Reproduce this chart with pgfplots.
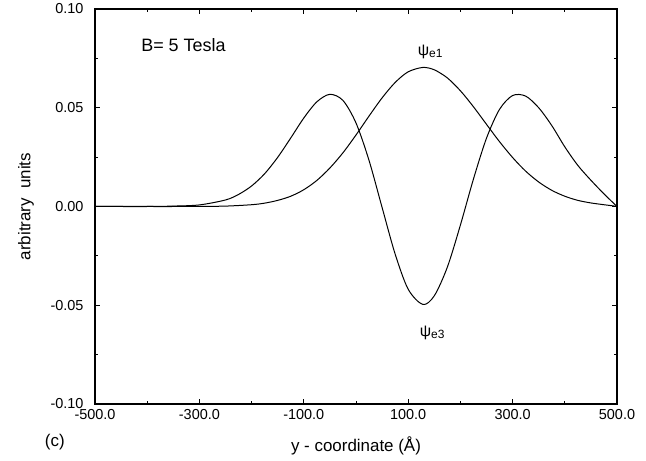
\documentclass[border=0pt]{standalone}
\usepackage{fontspec}
\setmainfont{Liberation Sans}
\usepackage{pgfplots}
\pgfplotsset{compat=1.18}
\begin{document}
\begin{tikzpicture}
\begin{axis}[
  scale only axis, width=522bp, height=395bp,
  xmin=-500, xmax=500, ymin=-0.1, ymax=0.1,
  scaled ticks=false,
  xtick={-500,-300,-100,100,300,500},
  minor xtick={-400,-200,0,200,400},
  ytick={-0.1,-0.05,0,0.05,0.1},
  minor ytick={-0.075,-0.025,0.025,0.075},
  tick align=inside,
  major tick length=5bp, minor tick length=3bp,
  axis line style={line width=1.2bp},
  every tick/.style={black, line width=0.8bp},
  tick label style={font=\fontsize{14.5}{16}\selectfont},
  xticklabel style={yshift=-2bp, /pgf/number format/.cd, fixed, fixed zerofill, precision=1, assume math mode=true},
  yticklabel style={xshift=-8bp, /pgf/number format/.cd, fixed, fixed zerofill, precision=2, assume math mode=true},
  xlabel={y - coordinate (Å)},
  ylabel={arbitrary\ \ units},
  every axis x label/.style={at={(axis description cs:0.5,-0.106)}, anchor=center, font=\fontsize{17}{19}\selectfont},
  every axis y label/.style={at={(axis description cs:-0.132,0.5)}, anchor=center, rotate=90, font=\fontsize{17}{19}\selectfont},
  clip=false,
]
\coordinate (sw) at (rel axis cs:0,0);
\coordinate (ne) at (rel axis cs:1,1);
% psi_e1
\addplot[black, line width=1bp, smooth] coordinates {
(-500,0) (-450,0) (-400,0) (-350,0) (-300,0.00004) (-250,0.0002) (-200,0.0009)
(-175,0.0017) (-150,0.0031) (-125,0.0052) (-100,0.0085) (-75,0.0132) (-50,0.0195)
(-25,0.0272) (0,0.0362) (25,0.0458) (50,0.0550) (75,0.0628) (100,0.0682) (128,0.0704)
(150,0.0692) (175,0.0651) (200,0.0586) (225,0.0505) (250,0.0416) (275,0.0328)
(300,0.0248) (325,0.0179) (350,0.0124) (375,0.0082) (400,0.0052) (425,0.0031)
(450,0.0018) (475,0.0009) (490,0.0004) (500,0)
};
% psi_e3
\addplot[black, line width=1bp, smooth] coordinates {
(-500,0) (-450,0) (-400,0) (-350,0.0002) (-300,0.0008) (-250,0.0033) (-225,0.0061)
(-200,0.0104) (-175,0.0166) (-150,0.0249) (-125,0.0347) (-100,0.0448) (-75,0.0530)
(-50,0.0568) (-25,0.0537) (0,0.0423) (25,0.0233) (50,-0.0005) (75,-0.0241)
(100,-0.0419) (128,-0.0496) (150,-0.0452) (175,-0.0307) (200,-0.0094) (225,0.0139)
(250,0.0346) (275,0.0492) (300,0.0562) (325,0.0559) (350,0.0500) (375,0.0410)
(400,0.0302) (425,0.0208) (450,0.0133) (475,0.0064) (500,0)
};
\node[font=\fontsize{18}{20}\selectfont, anchor=west] at (axis description cs:0.082,0.909) {B= 5 Tesla};
\node[font=\fontsize{16}{18}\selectfont] at (axis cs:142,0.0785) {ψ\raisebox{-0.25ex}{\fontsize{12}{13}\selectfont e1}};
\node[font=\fontsize{16}{18}\selectfont] at (axis cs:146,-0.0638) {ψ\raisebox{-0.25ex}{\fontsize{12}{13}\selectfont e3}};
\node[font=\fontsize{17}{19}\selectfont] at (axis description cs:-0.077,-0.096) {(c)};
\end{axis}
\pgfresetboundingbox
\path[use as bounding box] ([shift={(-95bp,-57bp)}]sw) rectangle ([shift={(29bp,9bp)}]ne);
\end{tikzpicture}
\end{document}
